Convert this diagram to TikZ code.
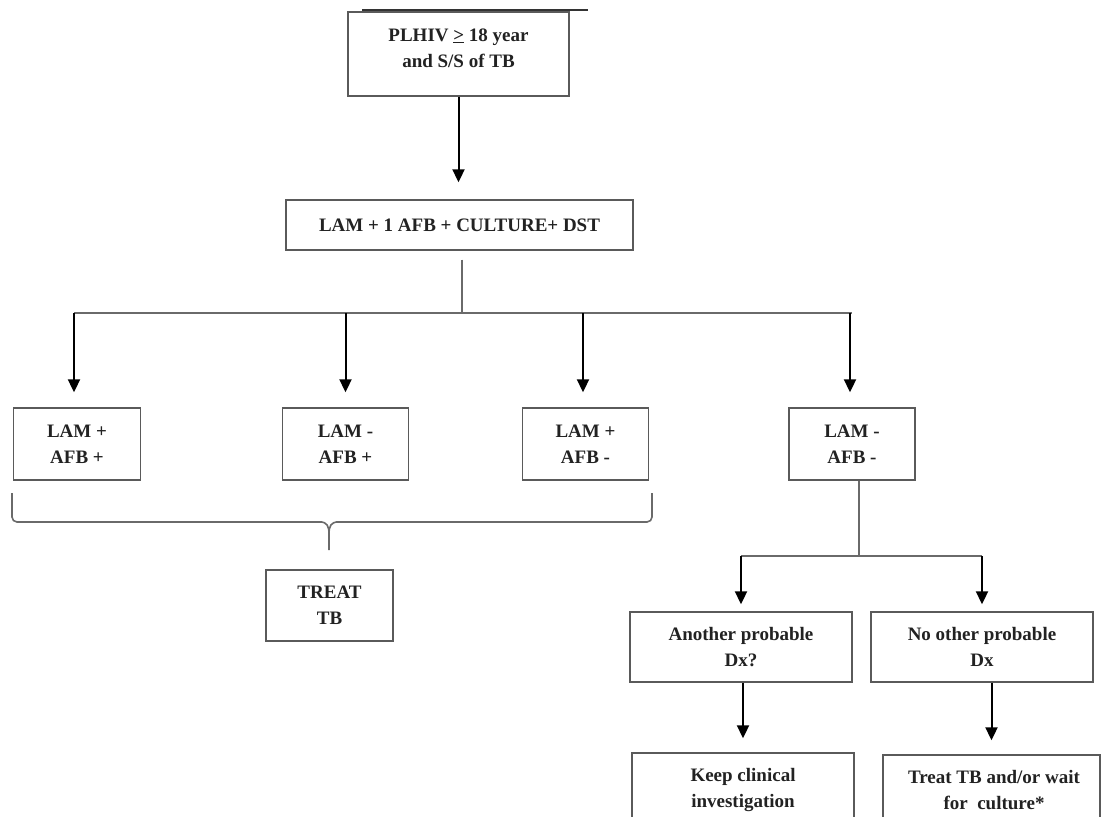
\documentclass[tikz,border=0pt]{standalone}
\usepackage{fontspec}
\setmainfont{Liberation Serif}
\usetikzlibrary{arrows.meta,calc}
\definecolor{boxc}{HTML}{5A5A5A}
\definecolor{txt}{HTML}{222222}
\definecolor{busc}{HTML}{6A6A6A}
\begin{document}
\begin{tikzpicture}[x=1pt,y=-1pt,
  box/.style={draw=boxc,line width=1.4pt,fill=white,inner sep=0pt,align=center,text=txt,
    font=\fontsize{19}{26}\selectfont\bfseries},
  lbl/.style={inner sep=0pt,align=center,text=txt,font=\fontsize{19}{26}\selectfont\bfseries},
  arr/.style={line width=2pt,-{Triangle[width=12pt,length=13pt]}},
  bus/.style={draw=busc,line width=1.4pt},
  brace/.style={draw=busc,line width=1.6pt,rounded corners=5pt}]
\useasboundingbox (0,0) rectangle (1102,816);
\clip (0,0) rectangle (1102,816);
\fill[white] (0,0) rectangle (1102,816);

% top box
\node[box,minimum width=221pt,minimum height=84pt] (top) at (458.5,54) {};
\node[lbl] (toptxt) at (458.5,48) {PLHIV \underline{>} 18 year\\and S/S of TB};
\coordinate (tl) at (362,10);
\coordinate (tr) at (588,10);
\draw[line width=1.6pt,black!80] (tl) -- (tr);

% middle box
\node[box,minimum width=347pt,minimum height=50pt] (mid) at (459.5,225) {LAM + 1 AFB + CULTURE+ DST};

% result boxes
\node[box,minimum width=127pt,minimum height=72pt] (b1) at (77,444) {LAM +\\AFB +};
\node[box,minimum width=126pt,minimum height=72pt] (b2) at (345.5,444) {LAM -\\AFB +};
\node[box,minimum width=126pt,minimum height=72pt] (b3) at (585.5,444) {LAM +\\AFB -};
\node[box,minimum width=126pt,minimum height=72pt] (b4) at (852,444) {LAM -\\AFB -};

% treat TB
\node[box,minimum width=127pt,minimum height=71pt] (treat) at (329.5,605.5) {TREAT\\TB};

% second level
\node[box,minimum width=222pt,minimum height=70pt] (b5) at (741,647) {Another probable\\Dx?};
\node[box,minimum width=222pt,minimum height=70pt] (b6) at (982,647) {No other probable\\Dx};

% bottom boxes (cut off at the page edge)
\node[box,minimum width=222pt,minimum height=80pt] (b7) at (743,793) {};
\node[lbl] (b7txt) at (743,790) {Keep clinical\\investigation};
\node[box,minimum width=217pt,minimum height=80pt] (b8) at (991.5,795) {};
\node[lbl] (b8txt) at (994,790) {Treat TB and/or wait\\for\ \ culture*};

% connectors
\draw[arr,shorten >=17pt] (top.south) -- (top.south |- mid.north);

\coordinate (busy) at (0,313);
\draw[bus] ([xshift=2.5pt,yshift=-9pt]mid.south) -- ([xshift=2.5pt]mid.south |- busy);
\draw[bus] ([xshift=-3pt]b1.north |- busy) -- (b4.north |- busy);
\draw[arr,shorten >=15pt] ([xshift=-3pt]b1.north |- busy) -- ([xshift=-3pt]b1.north);
\draw[arr,shorten >=15pt] (b2.north |- busy) -- (b2.north);
\draw[arr,shorten >=15pt] ([xshift=-2.5pt]b3.north |- busy) -- ([xshift=-2.5pt]b3.north);
\draw[arr,shorten >=15pt] ([xshift=-2pt]b4.north |- busy) -- ([xshift=-2pt]b4.north);

% brace
\coordinate (brL) at (12,493);
\coordinate (brR) at (652,493);
\coordinate (brT) at (329,550);
\draw[brace] (brL) -- (12,522) -- (322,522);
\draw[brace] (brR) -- (652,522) -- (336,522);
\draw[busc,line width=1.6pt] (320,522) .. controls (327,522) and (329,526) .. (329,534) -- (brT);
\draw[busc,line width=1.6pt] (338,522) .. controls (331,522) and (329,526) .. (329,534);

% lower branch
\coordinate (busy2) at (0,556);
\draw[bus] ([xshift=7pt]b4.south) -- ([xshift=7pt]b4.south |- busy2);
\draw[bus] (b5.north |- busy2) -- (b6.north |- busy2);
\draw[arr,shorten >=7pt] (b5.north |- busy2) -- (b5.north);
\draw[arr,shorten >=7pt] (b6.north |- busy2) -- (b6.north);

\draw[arr,shorten >=14pt] ([xshift=2pt]b5.south) -- ([xshift=2pt]b5.south |- b7.north);
\draw[arr,shorten >=14pt] (b8.north |- b6.south) -- (b8.north);
\end{tikzpicture}
\end{document}
